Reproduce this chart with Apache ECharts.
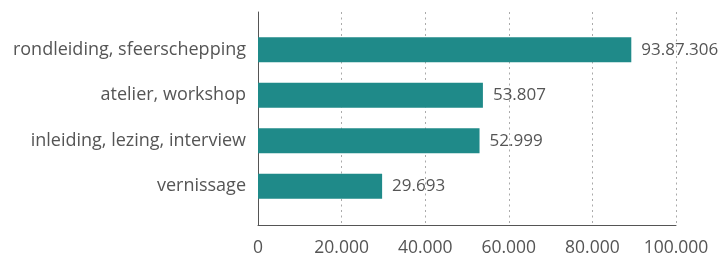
<!DOCTYPE html>
<html>
<head>
<meta charset="utf-8">
<script src="https://cdn.jsdelivr.net/npm/echarts@6/dist/echarts.min.js"></script>
<style>
  html, body { margin: 0; padding: 0; background: #fff; }
  #chart { width: 720px; height: 258px; }
</style>
</head>
<body>
<div id="chart"></div>
<script>
// data
const categories = ['rondleiding, sfeerschepping', 'atelier, workshop', 'inleiding, lezing, interview', 'vernissage']
const values = [89306, 53807, 52999, 29693]
const valueLabels = ['93.87.306', '53.807', '52.999', '29.693']
const xTickLabels = ['0', '20.000', '40.000', '60.000', '80.000', '100.000']

const fontFamily = '"Open Sans", sans-serif'
const textColor = '#555'

let chart = echarts.init(document.getElementById('chart'))
chart.setOption({
  animation: false,
  // grid 0 carries the frame (axis lines, dotted grid, x labels), grid 1 the bars
  grid: [
    { left: 258, right: 44, top: 12, bottom: 33 },
    { left: 258, right: 44, top: 27, bottom: 49 }
  ],
  xAxis: [
    {
      gridIndex: 0,
      type: 'value',
      min: 0,
      max: 100000,
      interval: 20000,
      axisLine: { show: true, lineStyle: { color: '#555', width: 1 } },
      axisTick: { show: false },
      axisLabel: {
        margin: 14,
        color: textColor,
        fontFamily: fontFamily,
        fontSize: 17.5,
        formatter: v => xTickLabels[Math.round(v / 20000)]
      },
      splitLine: {
        lineStyle: { color: '#aaa', type: [2, 3.5], width: 1 }
      }
    },
    {
      gridIndex: 1,
      type: 'value',
      min: 0,
      max: 100000,
      show: false
    }
  ],
  yAxis: [
    {
      gridIndex: 0,
      type: 'value',
      axisLine: { show: true, lineStyle: { color: '#555', width: 1 } },
      axisTick: { show: false },
      axisLabel: { show: false },
      splitLine: { show: false }
    },
    {
      gridIndex: 1,
      type: 'category',
      inverse: true,
      data: categories,
      axisLine: { show: false },
      axisTick: { show: false },
      axisLabel: {
        margin: 12,
        color: textColor,
        fontFamily: fontFamily,
        fontSize: 18
      }
    }
  ],
  series: [
    {
      type: 'bar',
      xAxisIndex: 1,
      yAxisIndex: 1,
      data: values,
      barWidth: 25,
      itemStyle: { color: '#1f8a89' },
      label: {
        show: true,
        position: 'right',
        distance: 10,
        color: textColor,
        fontFamily: fontFamily,
        fontSize: 17,
        formatter: p => valueLabels[p.dataIndex]
      }
    }
  ]
})
</script>
</body>
</html>
